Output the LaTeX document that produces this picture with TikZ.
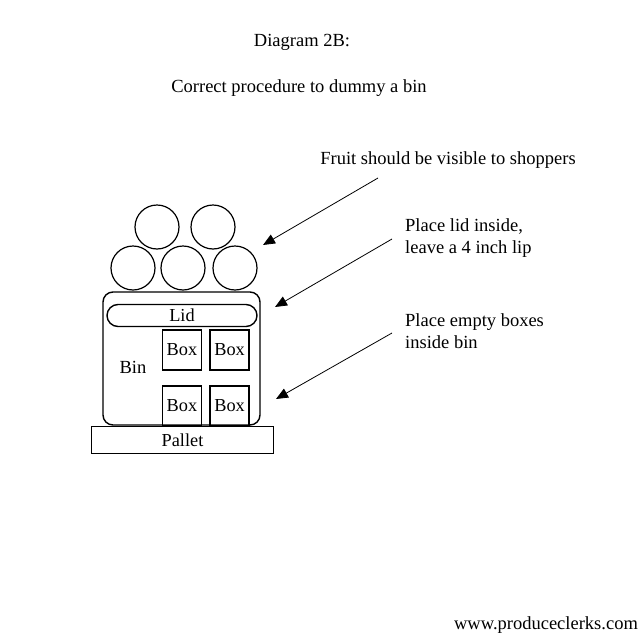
\documentclass[tikz,border=0pt]{standalone}
\usepackage{fontspec}
\setmainfont{Liberation Serif}
\usetikzlibrary{arrows.meta, positioning}

\begin{document}
\begin{tikzpicture}[x=1pt, y=-1pt,
        % Styles
        fruit/.style={circle, draw, line width=1.2pt, minimum size=44pt, inner sep=0pt},
        binbox/.style={rectangle, rounded corners=10pt, draw, line width=1.4pt,
                      minimum width=157pt, minimum height=133pt},
        lid/.style={rectangle, rounded corners=11pt, draw, line width=1.4pt, inner sep=0pt,
                   minimum width=150pt, minimum height=22pt, font=\fontsize{18.3}{21}\selectfont},
        emptybox/.style={rectangle, draw, line width=1.6pt, inner sep=0pt,
                        minimum width=39pt, minimum height=40pt, font=\fontsize{18.3}{21}\selectfont},
        pallet/.style={rectangle, draw, line width=1.4pt, inner sep=0pt,
                      minimum width=182pt, minimum height=27pt, font=\fontsize{18.3}{21}\selectfont},
        note/.style={align=left, inner sep=0pt, font=\fontsize{18.5}{21.7}\selectfont},
        arrow/.style={-{Triangle[length=12pt, width=10pt]}, line width=0.8pt},
    ]
    \useasboundingbox (0,0) rectangle (640,640);

    % Titles
    \node[note] (title) at (302,42) {Diagram 2B:};
    \node[note] (subtitle) at (299,88) {Correct procedure to dummy a bin};

    % Fruit on top
    \node[fruit] (f1) at (157,227) {};
    \node[fruit] (f2) at (213,227) {};
    \node[fruit] (f3) at (133,268) {};
    \node[fruit] (f4) at (183,268) {};
    \node[fruit] (f5) at (235,268) {};

    % Bin, lid and boxes
    \node[binbox] (bin) at (181.5,358.5) {};
    \node[lid] (lid) at (182,315.5) {Lid};
    \node[emptybox] (box1) at (182,350) {Box};
    \node[emptybox, right=7pt of box1] (box2) {Box};
    \node[emptybox] (box3) at (182,406) {Box};
    \node[emptybox, right=7pt of box3] (box4) {Box};
    \node[note] (binlabel) at (133,367) {Bin};

    % Pallet
    \node[pallet] (pallet) at (182.5,440) {Pallet};

    % Notes
    \node[note] (fruitnote) at (448,160) {Fruit should be visible to shoppers};
    \node[note, anchor=west] (lidnote) at (405,238) {Place lid inside,\\leave a 4 inch lip};
    \node[note, anchor=west] (boxnote) at (405,331) {Place empty boxes\\inside bin};

    % Arrows
    \coordinate (fruittail) at (378,178);
    \coordinate (fruittip) at (263,245);
    \coordinate (lidtail) at (392,239);
    \coordinate (lidtip) at (275,307);
    \coordinate (boxtail) at (392,333);
    \coordinate (boxtip) at (276,399);
    \draw[arrow] (fruittail) -- (fruittip);
    \draw[arrow] (lidtail) -- (lidtip);
    \draw[arrow] (boxtail) -- (boxtip);

    % Footer
    \node[note] (site) at (546,625) {www.produceclerks.com};

\end{tikzpicture}
\end{document}
